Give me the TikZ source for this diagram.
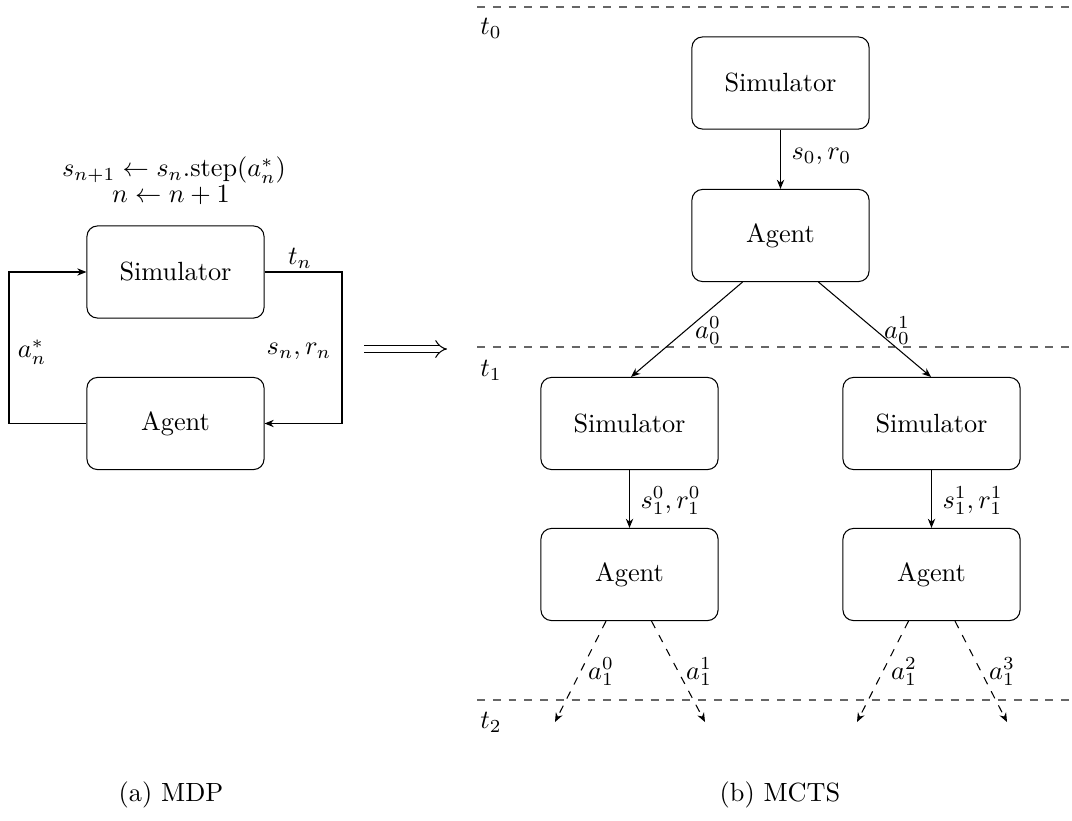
\documentclass[tikz,border=0pt]{standalone}
\usetikzlibrary{arrows.meta,calc}
\begin{document}
\begin{tikzpicture}[x=0.38pt,y=-0.38pt,
  box/.style={draw,rounded corners=4pt,minimum width=67.3pt,minimum height=35pt,inner sep=0pt},
  lbl/.style={inner sep=0pt},
  conn/.style={-{Stealth[length=3.5pt,width=2.8pt]}},
  dconn/.style={dashed,-{Stealth[length=3.5pt,width=2.8pt]}},
  level/.style={dashed,gray!80!black}]
\useasboundingbox (0,0) rectangle (1072,820);
% ---- (a) MDP ----
\node[box] (msim) at (175.5,272) {Simulator};
\node[box] (mag) at (175.5,423.5) {Agent};
\node[lbl] (f1) at (174,170) {$s_{n+1} \leftarrow s_n.\mathrm{step}(a_n^*)$};
\node[lbl] (f2) at (171,195) {$n \leftarrow n+1$};
\coordinate (lb) at (9,423.5);
\coordinate (lt) at (9,272);
\coordinate (rt) at (342,272);
\coordinate (rb) at (342,423.5);
\draw[conn] (mag.west) -- (lb) -- (lt) -- (msim.west);
\draw[conn] (msim.east) -- (rt) -- (rb) -- (mag.east);
\node[lbl] (tn) at (300,258) {$t_n$};
\node[lbl] (snrn) at (299,351) {$s_n, r_n$};
\node[lbl] (an) at (32,352) {$a_n^*$};
\coordinate (ia) at (364,349);
\coordinate (ib) at (447,349);
\draw[double,double distance=2pt,-{Implies}] (ia) -- (ib);
\node[lbl] (capa) at (171,795) {(a) MDP};
% ---- (b) MCTS ----
\coordinate (d0a) at (477,7); \coordinate (d0b) at (1072,7);
\coordinate (d1a) at (477,347); \coordinate (d1b) at (1072,347);
\coordinate (d2a) at (477,700); \coordinate (d2b) at (1072,700);
\draw[level] (d0a) -- (d0b);
\draw[level] (d1a) -- (d1b);
\draw[level] (d2a) -- (d2b);
\node[lbl] (t0) at (491,28) {$t_0$};
\node[lbl] (t1) at (491,370) {$t_1$};
\node[lbl] (t2) at (491,722) {$t_2$};
\node[box] (s0) at (780.5,83) {Simulator};
\node[box] (a0) at (780.5,235.5) {Agent};
\node[box] (sl) at (629.5,423.5) {Simulator};
\node[box] (al) at (629.5,574.5) {Agent};
\node[box] (sr) at (931.5,423.5) {Simulator};
\node[box] (ar) at (931.5,574.5) {Agent};
\draw[conn] (s0) -- (a0);
\node[lbl,anchor=west] (l0) at (791,156) {$s_0, r_0$};
\draw[conn] ($(a0.south)+(-38,0)$) -- ($(sl.north)+(1.5,0)$);
\draw[conn] ($(a0.south)+(38,0)$) -- ($(sr.north)+(-0.5,0)$);
\node[lbl] (la00) at (708,331) {$a_0^0$};
\node[lbl] (la01) at (897,331) {$a_0^1$};
\draw[conn] (sl) -- (al);
\draw[conn] (sr) -- (ar);
\node[lbl,anchor=west] (l1) at (640,501) {$s_1^0, r_1^0$};
\node[lbl,anchor=west] (l2) at (942,501) {$s_1^1, r_1^1$};
\coordinate (e0) at (555,722);
\coordinate (e1) at (705,722);
\coordinate (e2) at (857,722);
\coordinate (e3) at (1007,722);
\draw[dconn] ($(al.south)+(-23.5,0)$) -- (e0);
\draw[dconn] ($(al.south)+(22,0)$) -- (e1);
\draw[dconn] ($(ar.south)+(-23,0)$) -- (e2);
\draw[dconn] ($(ar.south)+(23.5,0)$) -- (e3);
\node[lbl] (b0) at (601,672) {$a_1^0$};
\node[lbl] (b1) at (699,672) {$a_1^1$};
\node[lbl] (b2) at (904,672) {$a_1^2$};
\node[lbl] (b3) at (1002,672) {$a_1^3$};
\node[lbl] (capb) at (780,795) {(b) MCTS};
\end{tikzpicture}
\end{document}
